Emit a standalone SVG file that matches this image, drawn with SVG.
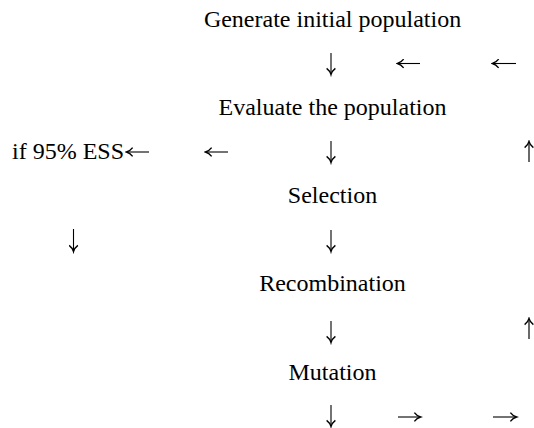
<svg xmlns="http://www.w3.org/2000/svg" width="534" height="428" viewBox="0 0 534 428">
<style>
text{font-family:"Liberation Serif","Times New Roman",serif;font-size:24px;fill:#000}
.c{text-anchor:middle}
.a{stroke:#000;stroke-width:1.1;fill:none;marker-end:url(#h)}
.u{stroke:#444;stroke-width:1.6}
</style>
<defs>
<marker id="h" markerUnits="userSpaceOnUse" markerWidth="10" markerHeight="10" refX="5" refY="4" orient="auto" viewBox="0 0 6 8">
<path d="M0.5,0.5 Q2.5,3.2 5.5,4 Q2.5,4.8 0.5,7.5" fill="none" stroke="#000" stroke-width="1.1"/>
</marker>
</defs>
<rect width="534" height="428" fill="#fff"/>
<g id="generate"><text class="c" x="332.5" y="27">Generate initial population</text></g>
<g id="evaluate"><text class="c" x="332.5" y="115">Evaluate the population</text></g>
<g id="ess"><text x="12" y="159">if 95% ESS</text></g>
<g id="selection"><text class="c" x="332.5" y="203">Selection</text></g>
<g id="recombination"><text class="c" x="332.5" y="291">Recombination</text></g>
<g id="mutation"><text class="c" x="332.5" y="380">Mutation</text></g>
<g id="connectors">
<path class="a" d="M331,53 V74"/>
<path class="a" d="M420,63.5 H398"/>
<path class="a" d="M516,63.5 H493"/>
<path class="a" d="M149,152 H127"/>
<path class="a" d="M228,152 H206"/>
<path class="a" d="M331,141 V162"/>
<path class="a u" d="M529,162 V142"/>
<path class="a" d="M73.5,229 V251"/>
<path class="a" d="M331,230 V251"/>
<path class="a" d="M331,321 V342"/>
<path class="a u" d="M529,339 V319"/>
<path class="a" d="M331,405 V426"/>
<path class="a" d="M398,417 H420"/>
<path class="a" d="M493,417 H516"/>
</g>
</svg>
